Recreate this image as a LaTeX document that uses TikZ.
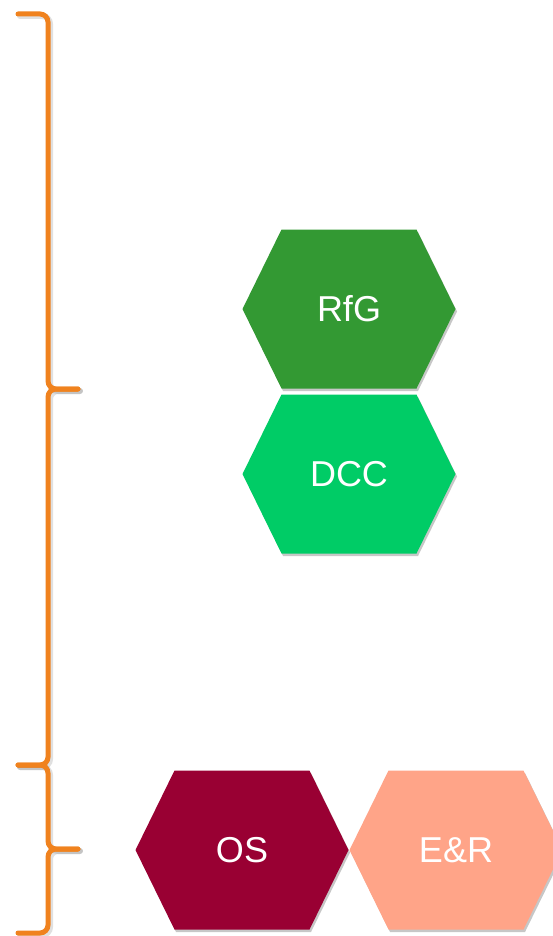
\documentclass[tikz,border=0pt]{standalone}
\usepackage{fontspec}
\setmainfont{Liberation Sans}
\usetikzlibrary{shadows}
\definecolor{bracecol}{RGB}{240,130,30}
\definecolor{rfgcol}{RGB}{51,153,51}
\definecolor{dcccol}{RGB}{0,204,102}
\definecolor{oscol}{RGB}{153,0,51}
\definecolor{ercol}{RGB}{255,164,136}
\tikzset{
  bracestroke/.style={draw=bracecol, line width=5pt, line cap=round, rounded corners=8pt},
  braceshadow/.style={draw=black, draw opacity=0.12, line width=6pt, line cap=round, rounded corners=8pt},
  hexfill/.style={fill=#1, drop shadow={shadow xshift=1.5pt, shadow yshift=-2.5pt, opacity=0.22, fill=black}},
  hexlabel/.style={text=white, font=\fontsize{36}{43}\selectfont, inner sep=0pt}
}
\newcommand\myhexagon[5]{%
  \path[hexfill=#4] (#2,#3) ++(-106.5,0) -- ++(39,-79.5) -- ++(135,0) -- ++(39,79.5) -- ++(-39,79.5) -- ++(-135,0) -- cycle;
  \node[hexlabel] (#1) at (#2,#3) {#5};%
}
\newcommand\mybrace[3]{%
  \draw[braceshadow, shift={(2pt,-2pt)}] (18,#1) -- (48,#1) -- (48,#2) -- (78,#2);
  \draw[braceshadow, shift={(2pt,-2pt)}] (18,#3) -- (48,#3) -- (48,#2) -- (78,#2);
  \draw[bracestroke] (18,#1) -- (48,#1) -- (48,#2) -- (78,#2);
  \draw[bracestroke] (18,#3) -- (48,#3) -- (48,#2) -- (78,#2);
}
\begin{document}
\begin{tikzpicture}[x=1pt,y=-1pt]
\useasboundingbox (0,0) rectangle (553,936);
\fill[white] (0,0) rectangle (553,936);
\clip (0,0) rectangle (553,936);
\mybrace{14}{389}{765}
\mybrace{765}{849}{933}
\myhexagon{rfg}{349}{309}{rfgcol}{RfG}
\myhexagon{dcc}{349}{474}{dcccol}{DCC}
\myhexagon{os}{242}{850}{oscol}{OS}
\myhexagon{er}{456}{850}{ercol}{E\&R}
\end{tikzpicture}
\end{document}
